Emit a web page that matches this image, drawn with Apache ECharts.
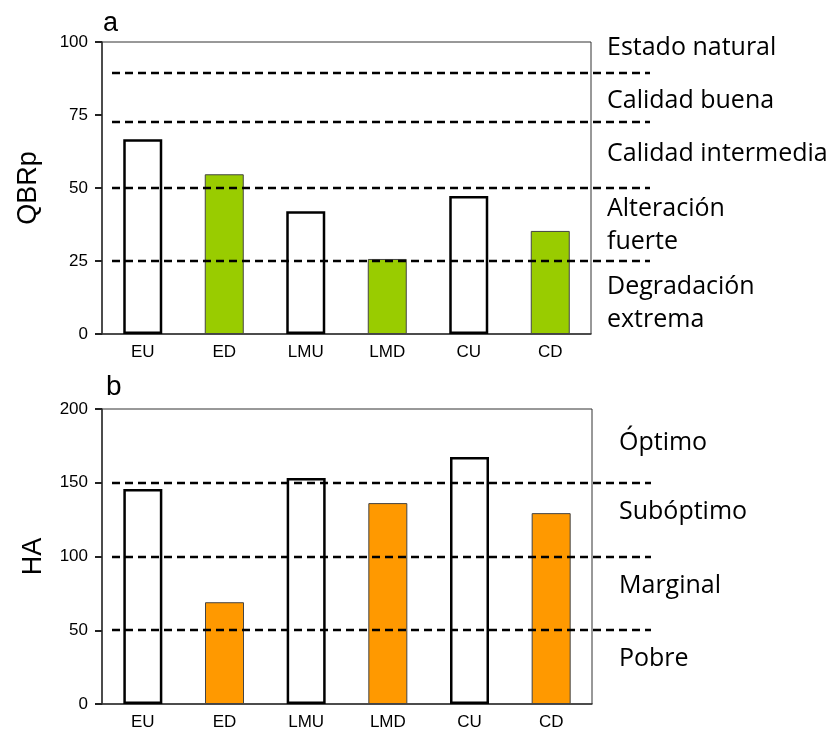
<!DOCTYPE html>
<html>
<head>
<meta charset="utf-8">
<script src="https://cdn.jsdelivr.net/npm/echarts@6/dist/echarts.min.js"></script>
<style>
  html, body { margin: 0; padding: 0; background: #fff; }
  #chart { width: 838px; height: 737px; }
</style>
</head>
<body>
<div id="chart"></div>
<script>
  // sites
  var categories = ['EU', 'ED', 'LMU', 'LMD', 'CU', 'CD'];
  // panel a: QBRp index
  var qbrValues = [66.7, 54.7, 42.0, 25.7, 47.3, 35.3];
  var qbrLimits = [89.5, 72.5, 50, 25];
  var qbrTicks = [0, 25, 50, 75, 100];
  var qbrClasses = ['Estado natural', 'Calidad buena', 'Calidad intermedia', 'Alteración', 'fuerte', 'Degradación', 'extrema'];
  // panel b: HA index
  var haValues = [145.7, 69.0, 153.2, 136.2, 167.4, 129.4];
  var haLimits = [150, 100, 50];
  var haTicks = [0, 50, 100, 150, 200];
  var haClasses = ['Óptimo', 'Subóptimo', 'Marginal', 'Pobre'];

  var chart = echarts.init(document.getElementById('chart'));

  var tickFont = 'Liberation Sans';
  var labelFont = '25px "Open Sans"';

  function barData (values, fill) {
    return values.map(function (v, i) {
      var dist = categories[i].slice(-1) === 'D';
      return {
        value: v,
        itemStyle: dist
          ? { color: fill, borderColor: '#444', borderWidth: 1 }
          : { color: '#fff', borderColor: '#000', borderWidth: 2.5 }
      };
    });
  }

  // dashed class limits, running past the right edge of the box
  function drawLimit (params, api) {
    var cs = params.coordSys;
    var y = Math.round(api.coord([0, api.value(1)])[1]);
    return {
      type: 'line',
      shape: { x1: cs.x + 10, y1: y, x2: cs.x + cs.width + 59, y2: y },
      style: { stroke: '#000', lineWidth: 2.5, lineDash: [8, 5] }
    };
  }

  function yAxis (idx, ticks, name, gap) {
    return {
      type: 'value',
      gridIndex: idx,
      min: ticks[0],
      max: ticks[ticks.length - 1],
      interval: ticks[1] - ticks[0],
      name: name,
      nameLocation: 'middle',
      nameGap: gap,
      nameTextStyle: { fontFamily: tickFont, fontSize: 27, color: '#000' },
      axisLine: { show: true, lineStyle: { color: '#333', width: 1.5 } },
      axisTick: { show: true, length: 7, lineStyle: { color: '#222', width: 2 } },
      axisLabel: { fontFamily: tickFont, fontSize: 17, color: '#000', margin: 14 },
      splitLine: { show: false }
    };
  }

  function xAxis (idx) {
    return {
      type: 'category',
      gridIndex: idx,
      data: categories,
      axisLine: { show: true, lineStyle: { color: '#333', width: 1.5 } },
      axisTick: { show: false },
      axisLabel: { fontFamily: tickFont, fontSize: 17, color: '#000', margin: 10 }
    };
  }

  function text (str, x, y, font) {
    return {
      type: 'text', x: x, y: y,
      style: { text: str, font: font, fill: '#000', verticalAlign: 'middle' }
    };
  }

  var qbrY = [48, 101, 154, 209, 242, 287, 320];
  var haY = [443, 512, 586, 659];
  var graphics = [
    text('a', 103, 24, '27px "Liberation Sans"'),
    text('b', 106, 387, '28px "Liberation Sans"')
  ];
  qbrClasses.forEach(function (c, i) { graphics.push(text(c, 607, qbrY[i], labelFont)); });
  haClasses.forEach(function (c, i) { graphics.push(text(c, 619, haY[i], labelFont)); });

  chart.setOption({
    animation: false,
    backgroundColor: '#fff',
    grid: [
      { left: 102, top: 42, width: 489, height: 292, show: true, borderColor: '#333', borderWidth: 1 },
      { left: 102, top: 409, width: 490, height: 295, show: true, borderColor: '#333', borderWidth: 1 }
    ],
    xAxis: [xAxis(0), xAxis(1)],
    yAxis: [yAxis(0, qbrTicks, 'QBRp', 60), yAxis(1, haTicks, 'HA', 55)],
    graphic: graphics,
    series: [
      {
        type: 'bar', xAxisIndex: 0, yAxisIndex: 0,
        barWidth: 39,
        data: barData(qbrValues, '#99cc00')
      },
      {
        type: 'bar', xAxisIndex: 1, yAxisIndex: 1,
        barWidth: 39,
        data: barData(haValues, '#ff9900')
      },
      {
        type: 'custom', xAxisIndex: 0, yAxisIndex: 0,
        clip: false, z: 5, silent: true,
        renderItem: drawLimit,
        encode: { x: 0, y: 1 },
        data: qbrLimits.map(function (v) { return [0, v]; })
      },
      {
        type: 'custom', xAxisIndex: 1, yAxisIndex: 1,
        clip: false, z: 5, silent: true,
        renderItem: drawLimit,
        encode: { x: 0, y: 1 },
        data: haLimits.map(function (v) { return [0, v]; })
      }
    ]
  });
</script>
</body>
</html>
